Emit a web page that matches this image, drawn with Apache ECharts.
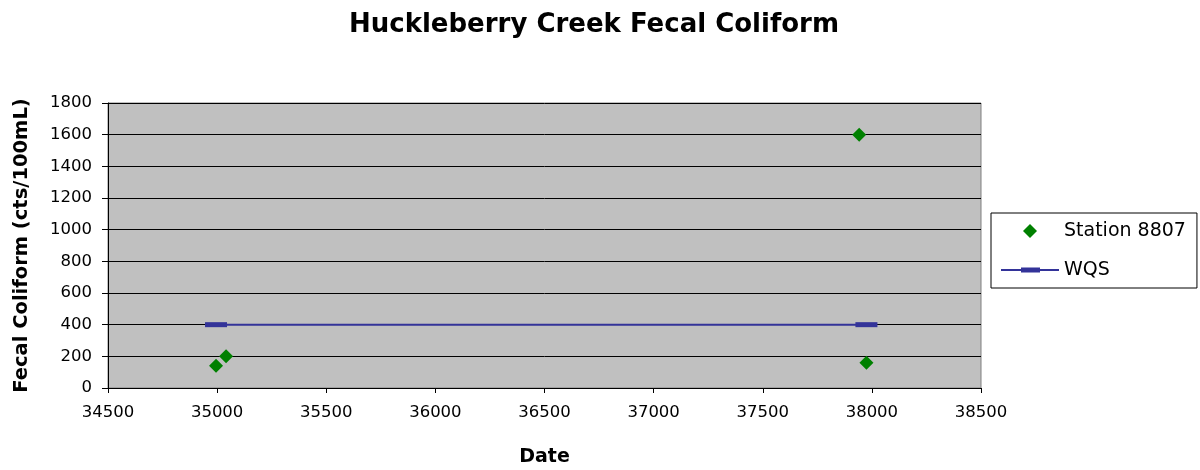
<!DOCTYPE html>
<html><head><meta charset="utf-8">
<script src="https://cdn.jsdelivr.net/npm/echarts@6/dist/echarts.min.js"></script>
<style>html,body{margin:0;padding:0;background:#fff}#c{width:1200px;height:470px}</style>
</head><body><div id="c"></div>
<script>
const stationDates = [34995, 35041, 37942, 37975];
const stationValues = [140, 200, 1600, 160];
const wqsDates = [34995, 37975];
const wqsValues = [400, 400];
const xTicks = {min: 34500, max: 38500, interval: 500};
const yTicks = {min: 0, max: 1800, interval: 200};

const chart = echarts.init(document.getElementById('c'), null, {renderer: 'canvas'});
const F = '"DejaVu Sans", Arial, sans-serif';
chart.setOption({
  animation: false,
  backgroundColor: '#fff',
  title: {text: 'Huckleberry Creek Fecal Coliform', left: 589, textAlign: 'center', top: 7,
    textStyle: {fontFamily: F, fontSize: 26, fontWeight: 'bold', color: '#000'}},
  grid: {left: 108, right: 219, top: 103, bottom: 82, containLabel: false, outerBoundsMode: 'none',
    show: true, backgroundColor: '#c0c0c0', borderColor: '#808080', borderWidth: 1},
  legend: {left: 991, top: 213, orient: 'vertical', backgroundColor: '#fff', borderColor: '#000', borderWidth: 1,
    padding: [8, 11, 8, 10], itemGap: 19, itemWidth: 58, itemHeight: 16,
    textStyle: {fontFamily: F, fontSize: 19, lineHeight: 20, color: '#000'},
    data: [
      {name: 'Station 8807', icon: 'path://M0,0 M58,16 M29,1 L36,8 L29,15 L22,8 Z'},
      {name: 'WQS', icon: 'path://M0,0 M58,16 M0,7 L58,7 L58,9 L0,9 Z M20,5.5 L39,5.5 L39,10.5 L20,10.5 Z'}
    ]},
  xAxis: {type: 'value', min: xTicks.min, max: xTicks.max, interval: xTicks.interval,
    name: 'Date', nameLocation: 'middle', nameGap: 60,
    nameTextStyle: {fontFamily: F, fontSize: 19, fontWeight: 'bold', color: '#000'},
    axisLine: {show: true, lineStyle: {color: '#000'}},
    axisTick: {show: true, inside: false, length: 5, lineStyle: {color: '#000'}},
    axisLabel: {fontFamily: F, fontSize: 16.5, color: '#000', margin: 16, formatter: v => String(v)},
    splitLine: {show: false}},
  yAxis: {type: 'value', min: yTicks.min, max: yTicks.max, interval: yTicks.interval,
    name: 'Fecal Coliform (cts/100mL)', nameLocation: 'middle', nameGap: 76,
    nameTextStyle: {fontFamily: F, fontSize: 19.5, fontWeight: 'bold', color: '#000'},
    axisLine: {show: true, lineStyle: {color: '#000'}},
    axisTick: {show: true, inside: false, length: 6, lineStyle: {color: '#000'}},
    axisLabel: {fontFamily: F, fontSize: 16.5, color: '#000', margin: 16, formatter: v => String(v)},
    splitLine: {show: true, lineStyle: {color: '#000', width: 1}}},
  series: [
    {name: 'Station 8807', type: 'scatter', data: stationDates.map((d, i) => [d, stationValues[i]]),
      symbol: 'diamond', symbolSize: 14, itemStyle: {color: '#008000', opacity: 1}, z: 3},
    {name: 'WQS', type: 'line', data: wqsDates.map((d, i) => [d, wqsValues[i]]),
      symbol: 'rect', symbolSize: [22, 5], showSymbol: true, itemStyle: {color: '#333399'},
      lineStyle: {color: '#333399', width: 2}, z: 2}
  ]
});
</script></body></html>
